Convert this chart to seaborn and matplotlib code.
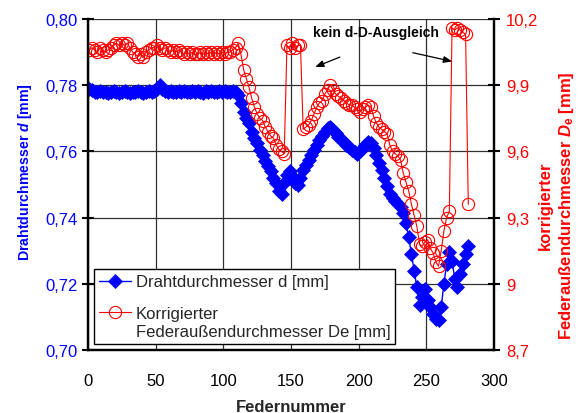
import matplotlib
matplotlib.use("Agg")
import matplotlib.pyplot as plt
import seaborn as sns
import numpy as np
import pandas as pd
from matplotlib.ticker import FixedLocator, FixedFormatter
from matplotlib.legend_handler import HandlerLine2D

# ---------------- data ----------------
federnummer = [1, 3, 5, 7, 9, 11, 13, 15, 17, 19, 21, 23, 25, 27, 29, 31, 33, 35, 37, 39,
               41, 43, 45, 47, 49, 51, 53, 55, 57, 59, 61, 63, 65, 67, 69, 71, 73, 75, 77, 79,
               81, 83, 85, 87, 89, 91, 93, 95, 97, 99, 101, 103, 105, 107, 109, 111, 113, 115, 117, 119,
               121, 123, 125, 127, 129, 131, 133, 135, 137, 139, 141, 143, 145, 147, 149, 151, 153, 155, 157, 159,
               161, 163, 165, 167, 169, 171, 173, 175, 177, 179, 181, 183, 185, 187, 189, 191, 193, 195, 197, 199,
               201, 203, 205, 207, 209, 211, 213, 215, 217, 219, 221, 223, 225, 227, 229, 231, 233, 235, 237, 239,
               241, 243, 245, 247, 249, 251, 253, 255, 257, 259, 261, 263, 265, 267, 269, 271, 273, 275, 277, 279,
               281]

draht_d = [0.7790, 0.7785, 0.7780, 0.7778, 0.7782, 0.7778, 0.7780, 0.7776, 0.7779, 0.7781,
           0.7778, 0.7776, 0.7780, 0.7782, 0.7779, 0.7777, 0.7780, 0.7778, 0.7781, 0.7779,
           0.7777, 0.7780, 0.7782, 0.7779, 0.7783, 0.7790, 0.7800, 0.7788, 0.7781, 0.7779,
           0.7782, 0.7780, 0.7778, 0.7781, 0.7779, 0.7783, 0.7780, 0.7778, 0.7781, 0.7779,
           0.7782, 0.7780, 0.7777, 0.7781, 0.7779, 0.7782, 0.7780, 0.7778, 0.7781, 0.7779,
           0.7782, 0.7780, 0.7779, 0.7781, 0.7780, 0.7770, 0.7745, 0.7720, 0.7700, 0.7685,
           0.7660, 0.7640, 0.7625, 0.7605, 0.7590, 0.7570, 0.7555, 0.7540, 0.7520, 0.7505,
           0.7480, 0.7470, 0.7505, 0.7530, 0.7540, 0.7525, 0.7505, 0.7500, 0.7520, 0.7545,
           0.7560, 0.7575, 0.7590, 0.7605, 0.7620, 0.7635, 0.7648, 0.7660, 0.7670, 0.7675,
           0.7665, 0.7655, 0.7645, 0.7638, 0.7628, 0.7620, 0.7612, 0.7605, 0.7598, 0.7592,
           0.7600, 0.7610, 0.7620, 0.7628, 0.7625, 0.7610, 0.7590, 0.7565, 0.7545, 0.7520,
           0.7495, 0.7470, 0.7460, 0.7450, 0.7440, 0.7432, 0.7415, 0.7385, 0.7340, 0.7290,
           0.7240, 0.7190, 0.7135, 0.7160, 0.7185, 0.7150, 0.7130, 0.7110, 0.7095, 0.7090,
           0.7130, 0.7200, 0.7260, 0.7295, 0.7270, 0.7215, 0.7190, 0.7230, 0.7260, 0.7290,
           0.7315]

feder_De = [10.06, 10.07, 10.06, 10.05, 10.07, 10.06, 10.05, 10.06, 10.07, 10.08,
            10.09, 10.08, 10.09, 10.08, 10.09, 10.07, 10.05, 10.04, 10.03, 10.04,
            10.03, 10.05, 10.06, 10.07, 10.07, 10.08, 10.07, 10.06, 10.07, 10.06,
            10.05, 10.06, 10.05, 10.06, 10.05, 10.04, 10.05, 10.04, 10.05, 10.04,
            10.04, 10.05, 10.04, 10.05, 10.04, 10.05, 10.04, 10.05, 10.04, 10.05,
            10.04, 10.05, 10.05, 10.06, 10.07, 10.09, 10.04, 9.97, 9.93, 9.89,
            9.84, 9.80, 9.77, 9.75, 9.74, 9.71, 9.69, 9.67, 9.66, 9.63,
            9.61, 9.60, 9.59, 10.08, 10.07, 10.09, 10.07, 10.08, 10.08, 9.70,
            9.71, 9.72, 9.74, 9.77, 9.80, 9.82, 9.83, 9.86, 9.88, 9.90,
            9.88, 9.86, 9.85, 9.84, 9.83, 9.82, 9.81, 9.81, 9.80, 9.79,
            9.78, 9.79, 9.80, 9.81, 9.80, 9.76, 9.73, 9.71, 9.70, 9.69,
            9.68, 9.63, 9.60, 9.59, 9.58, 9.56, 9.50, 9.46, 9.42, 9.36,
            9.31, 9.26, 9.18, 9.17, 9.19, 9.20, 9.16, 9.14, 9.10, 9.08,
            9.15, 9.24, 9.30, 9.33, 10.16, 10.15, 10.16, 10.15, 10.14, 10.13,
            9.36]

x_ticks = [0, 50, 100, 150, 200, 250, 300]
x_tick_labels = ["0", "50", "100", "150", "200", "250", "300"]
left_ticks = [0.70, 0.72, 0.74, 0.76, 0.78, 0.80]
left_tick_labels = ["0,70", "0,72", "0,74", "0,76", "0,78", "0,80"]
right_ticks = [8.7, 9.0, 9.3, 9.6, 9.9, 10.2]
right_tick_labels = ["8,7", "9", "9,3", "9,6", "9,9", "10,2"]

label_d = "Drahtdurchmesser d [mm]"
label_De = "Korrigierter\nFederaußendurchmesser De [mm]"
annotation_text = "kein d-D-Ausgleich"

df = pd.DataFrame({"Federnummer": federnummer, "d": draht_d, "De": feder_De})

# ---------------- style ----------------
sns.set_style("white")
plt.rcParams["font.family"] = ["Liberation Sans", "DejaVu Sans"]
plt.rcParams["mathtext.fontset"] = "custom"
plt.rcParams["mathtext.it"] = "Liberation Sans:italic:bold"
plt.rcParams["mathtext.rm"] = "Liberation Sans:bold"
plt.rcParams["mathtext.bf"] = "Liberation Sans:bold"

fig = plt.figure(figsize=(5.82, 4.14), dpi=100)
ax = fig.add_axes([88 / 582, 1 - 351 / 414, 406 / 582, 331 / 414])
ax2 = ax.twinx()

blue = "#0000FF"
red = "#FF0000"

sns.lineplot(data=df, x="Federnummer", y="d", ax=ax, color=blue, lw=1.0,
             marker="D", markersize=6.8, markeredgecolor=blue, markerfacecolor=blue,
             markeredgewidth=0.5, sort=False, estimator=None, legend=False)
sns.lineplot(data=df, x="Federnummer", y="De", ax=ax2, color=red, lw=0.8,
             marker="o", markersize=8.8, markeredgecolor=red, markerfacecolor="none",
             markeredgewidth=0.8, sort=False, estimator=None, legend=False)

ax.set_xlim(0, 300)
ax.set_ylim(0.70, 0.80)
ax2.set_ylim(8.7, 10.2)

ax.xaxis.set_major_locator(FixedLocator(x_ticks))
ax.xaxis.set_major_formatter(FixedFormatter(x_tick_labels))
ax.yaxis.set_major_locator(FixedLocator(left_ticks))
ax.yaxis.set_major_formatter(FixedFormatter(left_tick_labels))
ax2.yaxis.set_major_locator(FixedLocator(right_ticks))
ax2.yaxis.set_major_formatter(FixedFormatter(right_tick_labels))

ax.grid(True, color="#303030", lw=0.9)
ax.set_axisbelow(True)

for a in (ax, ax2):
    a.spines["top"].set_visible(False)
    for s in ("left", "right", "bottom"):
        a.spines[s].set_linewidth(1.6)
        a.spines[s].set_color("black")

ax.tick_params(axis="x", direction="inout", length=9, width=1.5, labelsize=12,
               colors="black", pad=12)
ax.tick_params(axis="y", direction="inout", length=9, width=1.5, labelsize=12,
               labelcolor=blue, color="black", pad=3)
ax2.tick_params(axis="y", direction="inout", length=9, width=1.5, labelsize=12,
                labelcolor=red, color="black", pad=4)

ax.set_xlabel("Federnummer", fontsize=12, fontweight="bold", labelpad=8)
ax.set_ylabel(r"Drahtdurchmesser $d$ [mm]", fontsize=10.2, fontweight="bold",
              color=blue)
ax.yaxis.set_label_coords(-0.132, 0.54)
ax2.set_ylabel("korrigierter\n" + r"Federaußendurchmesser $D_\mathrm{e}$ [mm]",
               fontsize=12, fontweight="bold", color=red,
               rotation=90, linespacing=1.3)
ax2.yaxis.set_label_coords(1.108, 0.438)

# annotation
ax.text(213, 0.796, annotation_text, ha="center", va="center", fontsize=10,
        fontweight="bold", color="black")
ax.annotate("", xy=(166, 0.7852), xytext=(188, 0.7888),
            arrowprops=dict(arrowstyle="-|>,head_length=0.5,head_width=0.2",
                            color="black", lw=0.9))
ax.annotate("", xy=(271, 0.7870), xytext=(238, 0.7900),
            arrowprops=dict(arrowstyle="-|>,head_length=0.5,head_width=0.2",
                            color="black", lw=0.9))


class ShiftedLine2D(HandlerLine2D):
    def __init__(self, shift=0.0, **kw):
        super().__init__(**kw)
        self.shift = shift

    def create_artists(self, legend, orig_handle, xdescent, ydescent, width,
                       height, fontsize, trans):
        arts = super().create_artists(legend, orig_handle, xdescent, ydescent,
                                      width, height, fontsize, trans)
        for a in arts:
            yd = np.asarray(a.get_ydata(), dtype=float)
            a.set_ydata(yd + self.shift)
        return arts


handles = [ax.lines[0], ax2.lines[0]]
leg = ax2.legend(handles, [label_d, label_De], loc="lower left",
                 bbox_to_anchor=(0.015, 0.018), fontsize=12, frameon=True,
                 fancybox=False, edgecolor="black", framealpha=1,
                 handlelength=1.9, handletextpad=0.3, labelspacing=1.0,
                 borderpad=0.3, borderaxespad=0,
                 handler_map={ax2.lines[0]: ShiftedLine2D(shift=7.5)})
for t in leg.get_texts():
    t.set_linespacing(1.25)
leg.get_frame().set_linewidth(1.0)
leg.set_zorder(10)

fig.savefig("out.png", dpi=100)
